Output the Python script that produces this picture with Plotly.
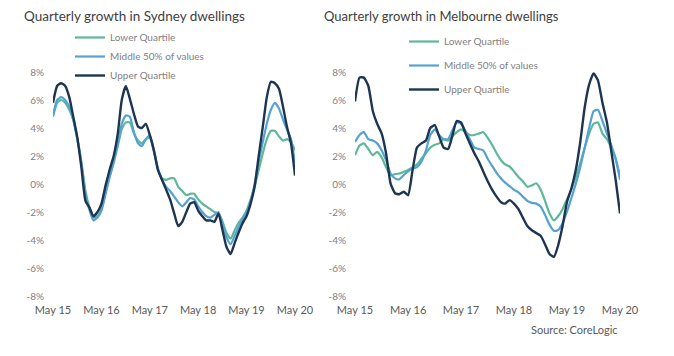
import pandas as pd
import plotly.graph_objects as go

months = pd.date_range("2015-05-01", periods=61, freq="MS")
tick_dates = pd.date_range("2015-05-01", periods=6, freq="12MS")
tick_labels = ["May 15", "May 16", "May 17", "May 18", "May 19", "May 20"]
y_ticks = [-8, -6, -4, -2, 0, 2, 4, 6, 8]
y_tick_labels = ["-8%", "-6%", "-4%", "-2%", "0%", "2%", "4%", "6%", "8%"]
series_names = ["Lower Quartile", "Middle 50% of values", "Upper Quartile"]

syd_lower = [4.8, 5.8, 6.0, 5.8, 5.3, 4.6, 3.2, 1.6, -0.5, -1.7,
             -2.4, -2.3, -1.8, -0.6, 0.5, 1.5, 2.7, 3.9, 4.4, 4.4,
             3.6, 3.1, 2.9, 3.2, 3.3, 2.3, 1.1, 0.4, 0.3, 0.4,
             0.4, -0.2, -0.5, -0.8, -0.7, -0.7, -1.1, -1.4, -1.6, -1.8,
             -2.0, -2.1, -2.7, -3.5, -3.9, -3.3, -2.8, -2.4, -1.9, -1.1,
             -0.2, 1.0, 2.2, 3.2, 3.8, 3.8, 3.4, 3.1, 3.2, 3.0,
             2.4]
syd_middle = [4.9, 6.0, 6.2, 6.0, 5.5, 4.6, 3.2, 1.5, -0.7, -1.9,
              -2.6, -2.4, -1.9, -0.7, 0.5, 1.6, 2.9, 4.3, 4.9, 4.8,
              3.7, 2.9, 2.7, 3.2, 3.5, 2.4, 1.1, 0.3, -0.2, -0.5,
              -0.9, -1.3, -1.6, -1.3, -1.0, -1.1, -1.6, -2.0, -2.3, -2.4,
              -2.2, -2.0, -2.9, -3.8, -4.3, -3.7, -3.1, -2.5, -2.0, -1.2,
              0.0, 1.6, 3.0, 4.3, 5.3, 5.8, 5.4, 4.6, 3.9, 3.2,
              1.5]
syd_upper = [5.8, 7.0, 7.2, 7.0, 6.2, 4.8, 3.3, 1.2, -1.2, -1.7,
             -2.3, -2.0, -1.4, -0.1, 1.0, 2.0, 3.6, 6.0, 7.0, 6.1,
             5.0, 4.1, 4.0, 4.3, 3.5, 2.4, 1.0, 0.3, -0.4, -1.1,
             -2.1, -3.0, -2.7, -2.0, -1.4, -1.3, -1.9, -2.3, -2.6, -2.6,
             -2.7, -2.1, -3.3, -4.5, -5.0, -4.2, -3.5, -2.8, -2.3, -1.4,
             -0.2, 2.0, 4.1, 6.2, 7.3, 7.2, 6.8, 5.5, 4.1, 2.9,
             0.6]

mel_lower = [2.05, 2.75, 2.9, 2.5, 2.05, 2.3, 1.9, 1.2, 0.64, 0.7,
             0.75, 0.87, 1.0, 1.2, 1.4, 1.8, 2.2, 2.6, 2.8, 2.9,
             3.2, 3.1, 3.4, 3.7, 3.9, 3.7, 3.5, 3.5, 3.6, 3.7,
             3.3, 2.8, 2.2, 1.7, 1.4, 1.25, 0.9, 0.5, 0.2, -0.2,
             -0.1, 0.05, -0.4, -1.2, -2.1, -2.6, -2.3, -1.8, -1.1, -0.4,
             0.5, 1.5, 2.6, 3.6, 4.3, 4.4, 3.6, 3.2, 2.6, 1.8,
             0.6]
mel_middle = [3.0, 3.5, 3.7, 3.2, 3.1, 2.9, 2.4, 1.7, 0.75, 0.4,
              0.33, 0.64, 0.9, 1.1, 1.2, 1.6, 2.4, 3.5, 3.9, 3.5,
              3.2, 3.2, 3.8, 4.4, 4.3, 3.8, 3.2, 2.6, 2.5, 2.4,
              1.8, 1.3, 0.8, 0.4, 0.1, -0.15, -0.4, -0.6, -0.9, -1.2,
              -1.35, -1.4, -1.6, -2.2, -2.9, -3.35, -3.3, -2.8, -2.0, -1.0,
              0.0, 1.2, 2.6, 4.0, 5.2, 5.3, 4.5, 3.6, 2.8, 1.8,
              0.3]
mel_upper = [5.9, 7.6, 7.6, 7.0, 5.2, 4.3, 3.6, 2.2, 0.05, -0.66,
             -0.73, -0.55, -0.8, 1.0, 2.6, 2.9, 3.1, 4.0, 4.2, 3.4,
             2.6, 2.5, 3.4, 4.5, 4.4, 3.6, 2.9, 2.2, 1.6, 0.9,
             0.2, -0.4, -0.9, -1.3, -1.4, -1.15, -1.4, -1.8, -2.4, -3.0,
             -3.3, -3.5, -3.7, -4.3, -5.0, -5.2, -4.4, -3.0, -1.3, -0.3,
             1.0, 3.0, 5.5, 7.1, 7.9, 7.4, 5.8, 4.4, 2.4, 0.3,
             -2.1]

colors = ["#5DB897", "#55A2D2", "#1D3551"]
widths = [2.2, 2.2, 2.4]
W, H = 674, 356
OFF = 8  # page body margin offset
FONT = "Lato"


def px(xs):
    return (xs - OFF) / W


def py(ys):
    return 1 - (ys - OFF) / H


fig = go.Figure()
panels = [
    ("x", "y", "legend", [syd_lower, syd_middle, syd_upper]),
    ("x2", "y2", "legend2", [mel_lower, mel_middle, mel_upper]),
]
for xa, ya, lg, data in panels:
    for i, (name, vals) in enumerate(zip(series_names, data)):
        fig.add_trace(go.Scatter(
            x=months, y=vals, name=name, mode="lines",
            line=dict(color=colors[i], width=widths[i], shape="spline", smoothing=0.5),
            xaxis=xa, yaxis=ya, legend=lg, legendgroup=f"{lg}{i}",
            hoverinfo="skip",
        ))

y_dom = [py(296), py(72)]
x_dom1 = [px(53), px(295)]
x_dom2 = [px(355), px(620)]
zero_pos = y_dom[0] + (y_dom[1] - y_dom[0]) / 2
x_range = [months[0], months[-1]]


def xaxis_main(dom, anchor):
    return dict(domain=dom, anchor=anchor, range=x_range, showgrid=False, showline=False,
                zeroline=False, ticks="", tickvals=tick_dates, ticktext=tick_labels,
                automargin=False,
                tickfont=dict(family=FONT, size=11, color="#595959"), ticklabelstandoff=6)


def xaxis_zero(dom, overlay):
    return dict(domain=dom, overlaying=overlay, anchor="free", position=zero_pos,
                range=x_range, showgrid=False, showline=True, linecolor="#D9D9D9",
                linewidth=1, ticks="outside", ticklen=4, tickcolor="#D9D9D9",
                tickvals=tick_dates, showticklabels=False, zeroline=False,
                automargin=False, layer="below traces")


def yaxis(anchor):
    return dict(domain=y_dom, anchor=anchor, range=[-8, 8], showgrid=False,
                showline=False, zeroline=False, ticks="", tickvals=y_ticks,
                ticktext=y_tick_labels, ticklabelstandoff=8, automargin=False,
                tickfont=dict(family=FONT, size=10, color="#7F7F7F"))


legend_font = dict(family=FONT, size=10, color="#7F7F7F")

fig.update_layout(
    width=W, height=H, margin=dict(l=0, r=0, t=0, b=0, autoexpand=False),
    paper_bgcolor="white", plot_bgcolor="white",
    xaxis=xaxis_main(x_dom1, "y"),
    xaxis2=xaxis_main(x_dom2, "y2"),
    xaxis3=xaxis_zero(x_dom1, "x"),
    xaxis4=xaxis_zero(x_dom2, "x2"),
    yaxis=yaxis("x"),
    yaxis2=yaxis("x2"),
    legend=dict(x=px(70), y=py(23), xanchor="left", yanchor="top",
                bgcolor="rgba(0,0,0,0)", font=legend_font, itemwidth=30,
                traceorder="normal"),
    legend2=dict(x=px(404), y=py(27), xanchor="left", yanchor="top",
                 bgcolor="rgba(0,0,0,0)", font=legend_font, itemwidth=30,
                 traceorder="grouped", tracegroupgap=5),
    showlegend=True,
    annotations=[
        dict(text="Quarterly growth in Sydney dwellings", x=px(22), y=py(16),
             xref="paper", yref="paper", xanchor="left", yanchor="middle", showarrow=False,
             font=dict(family=FONT, size=13.5, color="#404040")),
        dict(text="Quarterly growth in Melbourne dwellings", x=px(322), y=py(16),
             xref="paper", yref="paper", xanchor="left", yanchor="middle", showarrow=False,
             font=dict(family=FONT, size=13, color="#404040")),
        dict(text="Source: CoreLogic", x=px(620), y=py(329),
             xref="paper", yref="paper", xanchor="right", yanchor="middle", showarrow=False,
             font=dict(family=FONT, size=11, color="#595959")),
    ],
)

fig.write_html("out.html")
